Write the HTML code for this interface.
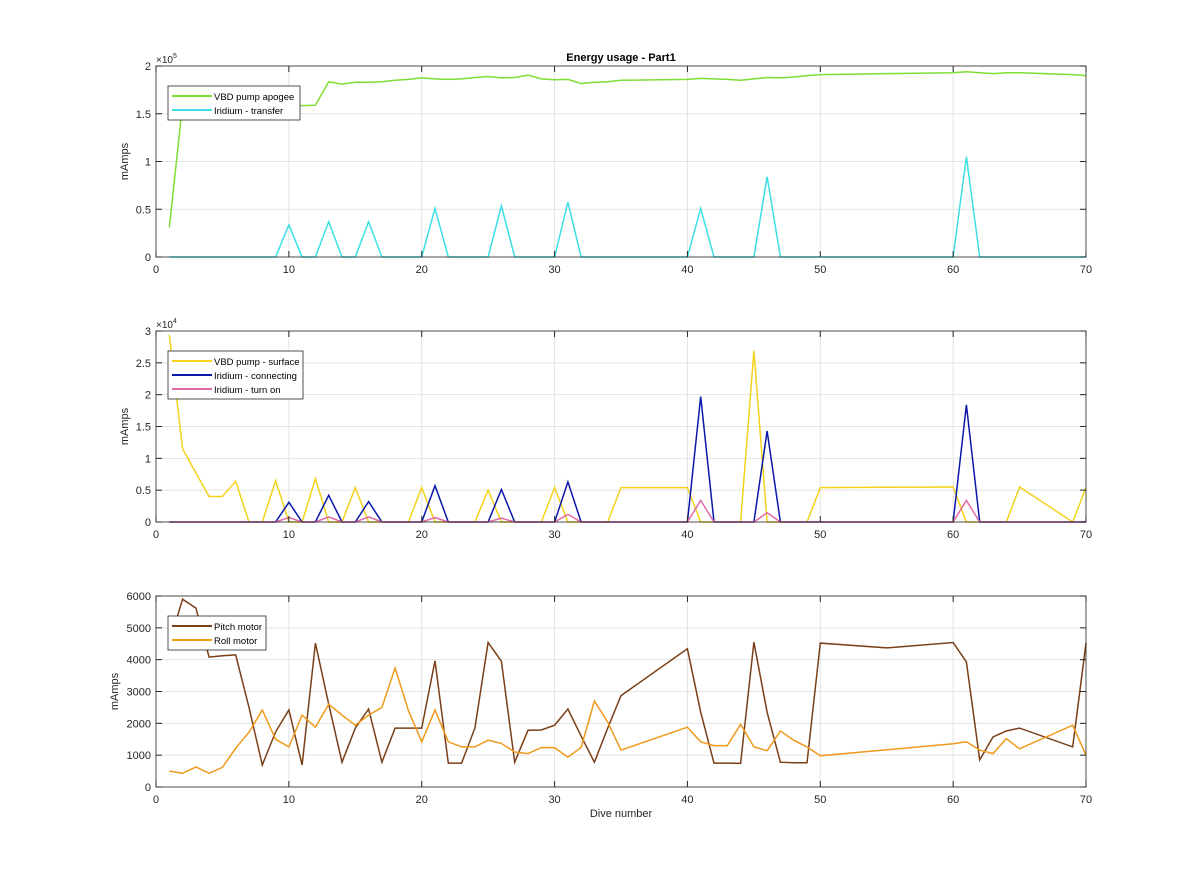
<!DOCTYPE html>
<html><head><meta charset="utf-8"><style>
body{margin:0;background:#fff;}
svg{display:block;font-family:"Liberation Sans",Arial,sans-serif;}
</style></head><body>
<svg id="c" width="1200" height="885" viewBox="0 0 1200 885"></svg>
<script>
const dives=[1,2,3,4,5,6,7,8,9,10,11,12,13,14,15,16,17,18,19,20,21,22,23,24,25,26,27,28,29,30,31,32,33,34,35,40,41,42,43,44,45,46,47,48,49,50,55,60,61,62,63,64,65,69,70];
const vbdApogee=[31000,160000,160000,160000,160000,160000,160000,160000,160000,159000,158500,159000,183600,181000,183000,183000,183600,185000,186000,187500,186500,186000,186500,188000,189000,187500,188000,190500,186500,185500,186000,181700,183000,183600,185000,186000,187000,186500,186000,185000,186500,188000,187500,188500,190000,191000,192000,193000,194000,193000,192000,193000,193000,191000,190000];
const iridiumTransfer=[0,0,0,0,0,0,0,0,0,33500,0,0,37000,0,0,37000,0,0,0,0,51000,0,0,0,0,53500,0,0,0,0,57500,0,0,0,0,0,51000,0,0,0,0,84000,0,0,0,0,0,0,105000,0,0,0,0,0,0];
const vbdSurface=[29400,11500,7700,4000,4000,6400,0,0,6500,0,0,6800,0,0,5400,0,0,0,0,5400,0,0,0,0,5000,0,0,0,0,5400,0,0,0,0,5400,5400,0,0,0,0,26900,0,0,0,0,5400,5450,5500,0,0,0,0,5500,0,5400];
const iridiumConnecting=[0,0,0,0,0,0,0,0,0,3100,0,0,4200,0,0,3200,0,0,0,0,5700,0,0,0,0,5100,0,0,0,0,6300,0,0,0,0,0,19700,0,0,0,0,14300,0,0,0,0,0,0,18400,0,0,0,0,0,0];
const iridiumTurnOn=[0,0,0,0,0,0,0,0,0,700,0,0,800,0,0,800,0,0,0,0,700,0,0,0,0,600,0,0,0,0,1200,0,0,0,0,0,3400,0,0,0,0,1450,0,0,0,0,0,0,3400,0,0,0,0,0,0];
const pitchMotor=[4520,5900,5620,4080,4120,4150,2500,690,1730,2420,690,4520,2600,780,1850,2450,780,1850,1850,1850,3960,750,750,1850,4540,3950,780,1780,1790,1940,2450,1600,780,1850,2870,4340,2350,750,750,740,4550,2350,780,760,760,4520,4370,4540,3930,850,1570,1760,1850,1260,4520];
const rollMotor=[500,430,630,430,620,1220,1720,2420,1500,1260,2260,1880,2600,2260,1940,2260,2500,3740,2400,1420,2420,1420,1260,1260,1470,1370,1100,1050,1240,1230,940,1240,2700,2040,1160,1880,1420,1300,1300,1970,1260,1140,1760,1470,1260,980,1170,1360,1420,1160,1050,1520,1200,1940,1000];
const xTicks=[0,10,20,30,40,50,60,70];
const ticks1=[0,0.5,1,1.5,2], ticks2=[0,0.5,1,1.5,2,2.5,3], ticks3=[0,1000,2000,3000,4000,5000,6000];

const NS="http://www.w3.org/2000/svg";
const svg=document.getElementById('c');
function mk(tag,attrs,parent){const e=document.createElementNS(NS,tag);for(const k in attrs)e.setAttribute(k,attrs[k]);(parent||svg).appendChild(e);return e;}
const X0=156,X1=1086;
function xs(d){return X0+(d-0)/(70-0)*(X1-X0);}

function panel(name,top,bot,ymax,yticks,tickScale,expLabel,series,legend,xlabel,ylx){
  const g=mk('g',{});
  
  
  const ys=v=>bot-(v/ymax)*(bot-top);
  xTicks.forEach(t=>{const l=mk('line',{x1:xs(t),x2:xs(t),y1:top,y2:bot,stroke:'#e3e3e3','stroke-width':1},g);
    });
  yticks.forEach(t=>{const l=mk('line',{x1:X0,x2:X1,y1:ys(t*tickScale),y2:ys(t*tickScale),stroke:'#e3e3e3','stroke-width':1},g);
    });
  series.forEach(s=>{
    const pts=dives.map((d,i)=>xs(d).toFixed(1)+','+ys(s.vals[i]).toFixed(1)).join(' ');
    const p=mk('polyline',{points:pts,fill:'none',stroke:s.color,'stroke-width':1.5},g);
    
    
  });
  const r=mk('rect',{x:X0,y:top,width:X1-X0,height:bot-top,fill:'none',stroke:'#262626','stroke-width':0.8},g);
  
  xTicks.forEach(t=>{
    mk('line',{x1:xs(t),x2:xs(t),y1:bot,y2:bot-6,stroke:'#262626'},g);
    mk('line',{x1:xs(t),x2:xs(t),y1:top,y2:top+6,stroke:'#262626'},g);
    const tx=mk('text',{x:xs(t),y:bot+16,'font-size':11,'text-anchor':'middle',fill:'#262626'},g);
    tx.textContent=t;
    
  });
  yticks.forEach(t=>{
    const y=ys(t*tickScale);
    mk('line',{x1:X0,x2:X0+6,y1:y,y2:y,stroke:'#262626'},g);
    mk('line',{x1:X1,x2:X1-6,y1:y,y2:y,stroke:'#262626'},g);
    const tx=mk('text',{x:X0-5,y:y+4,'font-size':11,'text-anchor':'end',fill:'#262626'},g);
    tx.textContent=t;
    
  });
  if(expLabel){
    const e=mk('text',{x:X0,y:top-3,'font-size':10,fill:'#262626'},g);
    e.textContent='×10';
    const sup=mk('tspan',{dy:-5,'font-size':7},e);sup.textContent=expLabel;
    
  }
  const cy=(top+bot)/2;
  const yl=mk('text',{x:ylx,y:cy,'font-size':11,'text-anchor':'middle',fill:'#262626',transform:`rotate(-90 ${ylx} ${cy})`},g);
  yl.textContent='mAmps';
  
  const lg=mk('g',{},g);
  
  mk('rect',{x:168,y:top+20,width:legend.w,height:series.length*14+6,fill:'#fff',stroke:'#262626','stroke-width':0.8},lg);
  series.forEach((s,i)=>{
    const y=top+30+i*14;
    mk('line',{x1:172,x2:212,y1:y,y2:y,stroke:s.color,'stroke-width':2},lg);
    const t=mk('text',{x:214,y:y+4,'font-size':9.5,fill:'#000'},lg);
    t.textContent=s.label;
    
  });
  if(xlabel){
    const t=mk('text',{x:(X0+X1)/2,y:bot+30,'font-size':11,'text-anchor':'middle',fill:'#262626'},g);
    t.textContent=xlabel;
    
  }
}
panel('panel-apogee-transfer',66,257,200000,ticks1,100000,'5',
  [{name:'line-vbd-pump-apogee',label:'VBD pump apogee',color:'#7ede32',vals:vbdApogee},
   {name:'line-iridium-transfer',label:'Iridium - transfer',color:'#3ae0e6',vals:iridiumTransfer}],{w:132},null,128);
panel('panel-surface-iridium',331,522,30000,ticks2,10000,'4',
  [{name:'line-vbd-pump-surface',label:'VBD pump - surface',color:'#f2d21a',vals:vbdSurface},
   {name:'line-iridium-connecting',label:'Iridium - connecting',color:'#0a17a8',vals:iridiumConnecting},
   {name:'line-iridium-turn-on',label:'Iridium - turn on',color:'#e06aa8',vals:iridiumTurnOn}],{w:135},null,128);
panel('panel-motors',596,787,6000,ticks3,1,null,
  [{name:'line-pitch-motor',label:'Pitch motor',color:'#7a3f17',vals:pitchMotor},
   {name:'line-roll-motor',label:'Roll motor',color:'#ef9a1c',vals:rollMotor}],{w:98},'Dive number',118);
const title=mk('text',{x:621,y:61,'font-size':11,'font-weight':'bold','text-anchor':'middle',fill:'#000'});
title.textContent='Energy usage - Part1';


</script>
</body></html>
